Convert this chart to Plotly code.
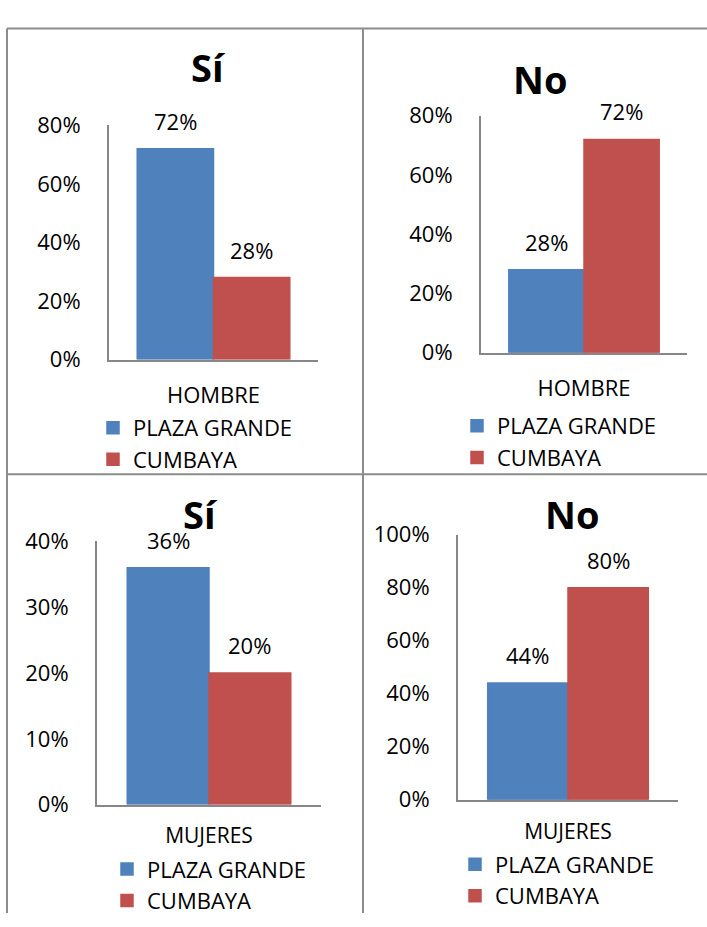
import plotly.graph_objects as go

W, H = 707, 927

# ---- data ----
series_names = ["PLAZA GRANDE", "CUMBAYA"]
series_colors = ["#4F81BD", "#C0504D"]

panel_titles = ["Sí", "No", "Sí", "No"]
panel_categories = [["HOMBRE"], ["HOMBRE"], ["MUJERES"], ["MUJERES"]]
plaza_grande = [0.72, 0.28, 0.36, 0.44]
cumbaya = [0.28, 0.72, 0.20, 0.80]
y_max = [0.8, 0.8, 0.4, 1.0]
y_dtick = [0.2, 0.2, 0.1, 0.2]

# ---- layout geometry (pixels) ----
# plot area: left, right, top, bottom
areas = [(109, 318, 113, 355), (481, 687, 103, 348), (97, 321, 543, 815), (458, 678, 536, 810)]
title_pos = [(208, 53), (540, 65), (200, 515), (572, 515)]
legend_pos = [(93, 404), (457, 402), (107, 860), (455, 855)]
cat_standoff = [15, 15, 11, 12]

FONT = "Open Sans"
FS = 22
bargap = 0.27

fig = go.Figure()

def px_x(x):
    return x / W

def px_y(y):
    return 1 - y / H

annotations = []
for i in range(4):
    n = "" if i == 0 else str(i + 1)
    vals = [plaza_grande[i], cumbaya[i]]
    for s in range(2):
        fig.add_trace(go.Bar(
            x=panel_categories[i], y=[vals[s]], name=series_names[s],
            marker=dict(color=series_colors[s], line=dict(color=series_colors[s], width=1.5)),
            xaxis="x" + n, yaxis="y" + n, legend="legend" + n,
            showlegend=True, hoverinfo="skip",
        ))
        # data labels above bars
        half = (1 - bargap) / 2
        xoff = -half / 2 if s == 0 else half / 2
        annotations.append(dict(
            x=xoff, y=vals[s], xref="x" + n, yref="y" + n,
            text=f"{round(vals[s]*100)}%", showarrow=False,
            yanchor="middle", yshift=28,
            font=dict(family=FONT, size=FS, color="#000000"),
        ))
    l, r, t, b = areas[i]
    fig.layout["xaxis" + n] = dict(
        domain=[px_x(l), px_x(r)], anchor="y" + n, type="category",
        range=[-0.5, 0.5], showline=True, linecolor="#878787", linewidth=2,
        ticks="", showgrid=False, zeroline=False, fixedrange=True,
        tickfont=dict(family=FONT, size=FS if i < 2 else FS - 1, color="#000000"),
        ticklabelstandoff=cat_standoff[i],
    )
    fig.layout["yaxis" + n] = dict(
        domain=[px_y(b), px_y(t)], anchor="x" + n,
        range=[0, y_max[i]], dtick=y_dtick[i], tick0=0, tickformat=".0%",
        showline=True, linecolor="#878787", linewidth=2,
        ticks="", showgrid=False, zeroline=False, fixedrange=True,
        tickfont=dict(family=FONT, size=FS, color="#000000"),
        ticklabelstandoff=22,
    )
    tx, ty = title_pos[i]
    annotations.append(dict(
        x=px_x(tx), y=px_y(ty), xref="paper", yref="paper",
        text=f"<b>{panel_titles[i]}</b>", showarrow=False,
        xanchor="center", yanchor="middle",
        font=dict(family=FONT, size=38, color="#000000"),
    ))
    lx, ly = legend_pos[i]
    fig.layout["legend" + n] = dict(
        x=px_x(lx), y=px_y(ly), xanchor="left", yanchor="top",
        bgcolor="rgba(0,0,0,0)", borderwidth=0, tracegroupgap=0,
        font=dict(family=FONT, size=FS, color="#000000"),
        itemclick=False, itemdoubleclick=False,
    )

# panel border lines
line_style = dict(color="#8C8C8C", width=2)
shapes = [
    dict(type="line", xref="paper", yref="paper", x0=px_x(7), x1=1, y0=px_y(13), y1=px_y(13), line=line_style),
    dict(type="line", xref="paper", yref="paper", x0=px_x(7), x1=1, y0=px_y(473.5), y1=px_y(473.5), line=line_style),
    dict(type="line", xref="paper", yref="paper", x0=px_x(7), x1=px_x(7), y0=px_y(13), y1=0, line=line_style),
    dict(type="line", xref="paper", yref="paper", x0=px_x(363), x1=px_x(363), y0=px_y(13), y1=0, line=line_style),
]

fig.update_layout(
    width=W, height=H, margin=dict(l=0, r=0, t=0, b=0),
    paper_bgcolor="#FFFFFF", plot_bgcolor="#FFFFFF",
    barmode="group", bargap=bargap, bargroupgap=0,
    annotations=annotations, shapes=shapes,
    font=dict(family=FONT, size=FS, color="#000000"),
)

fig.write_html("out.html")
